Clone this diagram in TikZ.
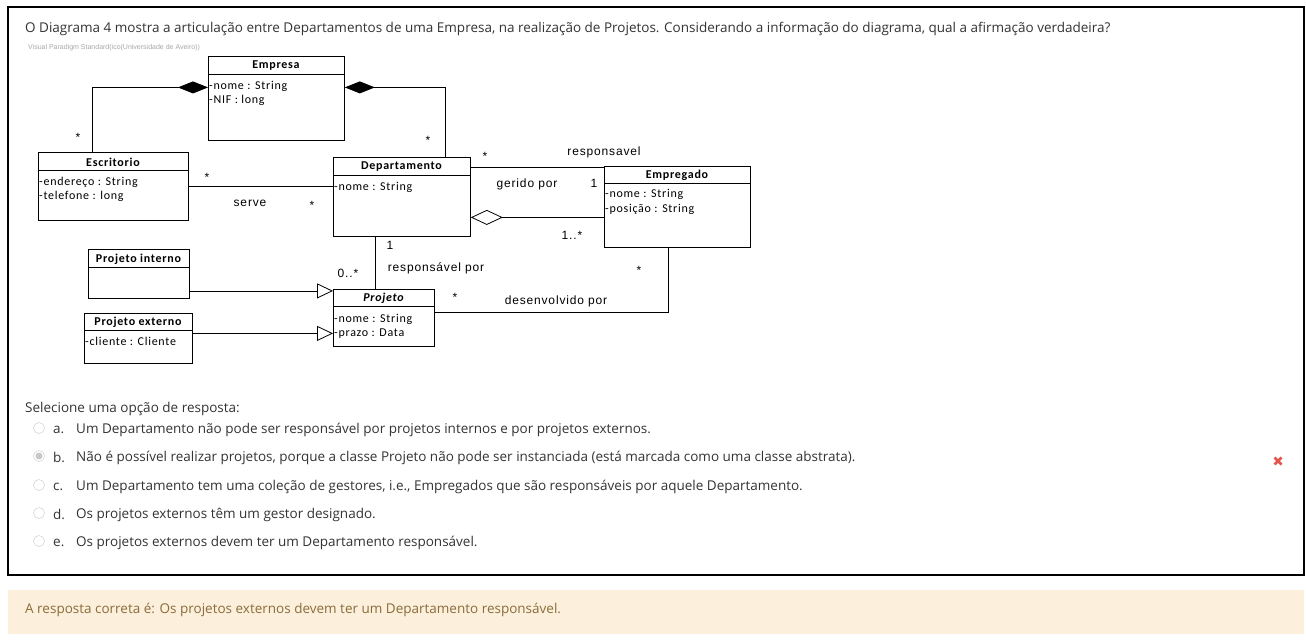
\documentclass[tikz,border=0pt]{standalone}
\usepackage{fontspec}
\setmainfont{Open Sans}
\newfontfamily\clsfont[LetterSpace=6]{Carlito}
\newfontfamily\lblfont[LetterSpace=7]{Liberation Sans}
\newfontfamily\tinyfont{Liberation Sans}
\usetikzlibrary{arrows.meta,calc,positioning}
\definecolor{pagetext}{HTML}{333333}
\definecolor{answerbg}{HTML}{FCEFDC}
\definecolor{answertext}{HTML}{8A6D3B}
\definecolor{wrongred}{HTML}{E5534B}
\definecolor{radiogray}{HTML}{C8C8C8}
\tikzset{
  cls/.style={draw, anchor=north west, line width=0.8pt, inner sep=0pt},
  clstitle/.style={font=\clsfont\bfseries\fontsize{12}{14}\selectfont, inner sep=0pt},
  attr/.style={font=\clsfont\fontsize{12}{14}\selectfont, anchor=base west, inner sep=0pt},
  lbl/.style={font=\lblfont\fontsize{12}{14}\selectfont, inner sep=0pt},
  assoc/.style={line width=0.8pt},
  comp/.style={line width=0.8pt, {Diamond[length=30pt,width=12pt]}-},
  aggr/.style={line width=0.8pt, {Diamond[open,length=32pt,width=15pt]}-},
  gen/.style={line width=0.8pt, -{Triangle[open,length=16pt,width=15pt]}},
  pagetxt/.style={font=\fontsize{13.5}{16}\selectfont, text=pagetext, anchor=west, inner sep=0pt},
  radio/.style={circle, draw=radiogray, fill=white, minimum size=11pt, inner sep=0pt},
}
\begin{document}
\begin{tikzpicture}[x=1pt,y=-1pt]
\useasboundingbox (0,0) rectangle (1306,641);
\draw[line width=1.2pt] (8,7) rectangle (1304,575);
\node[pagetxt] (pergunta) at (25,28.5) {O Diagrama 4 mostra a articulação entre Departamentos de uma Empresa, na realização de Projetos. Considerando a informação do diagrama, qual a afirmação verdadeira?};
\node[anchor=west, inner sep=0pt, font=\tinyfont\fontsize{7}{8}\selectfont, text=gray!70] (vp) at (28,48) {Visual Paradigm Standard(ico(Universidade de Aveiro))};
% classes
\node[cls, minimum width=136, minimum height=84] (empresa) at (208,56) {};
\node[clstitle] (empresaT) at (276,66) {Empresa};
\draw (208,74) -- (344,74);
\node[attr] (empresaA1) at (209,89) {-nome : String};
\node[attr] (empresaA2) at (209,103) {-NIF : long};
\node[cls, minimum width=150, minimum height=68] (escritorio) at (38,152) {};
\node[clstitle] (escritorioT) at (113,162) {Escritorio};
\draw (38,170) -- (188,170);
\node[attr] (escritorioA1) at (39,185) {-endereço : String};
\node[attr] (escritorioA2) at (39,199) {-telefone : long};
\node[cls, minimum width=137, minimum height=79] (depto) at (333,157) {};
\node[clstitle] (deptoT) at (401.5,167) {Departamento};
\draw (333,175) -- (470,175);
\node[attr] (deptoA1) at (334,190) {-nome : String};
\node[cls, minimum width=146, minimum height=81] (empregado) at (604,166) {};
\node[clstitle] (empregadoT) at (677,175) {Empregado};
\draw (604,183) -- (750,183);
\node[attr] (empregadoA1) at (605,197) {-nome : String};
\node[attr] (empregadoA2) at (605,212) {-posição : String};
\node[cls, minimum width=101, minimum height=49] (pInterno) at (88,249) {};
\node[clstitle] (pInternoT) at (138.5,259) {Projeto interno};
\draw (88,267) -- (189,267);
\node[cls, minimum width=108, minimum height=50] (pExterno) at (84,313) {};
\node[clstitle] (pExternoT) at (138,322) {Projeto externo};
\draw (84,330) -- (192,330);
\node[attr] (pExternoA1) at (85,345) {-cliente : Cliente};
\node[cls, minimum width=101, minimum height=57] (projeto) at (333,289) {};
\node[clstitle, font=\clsfont\bfseries\itshape\fontsize{12}{14}\selectfont] (projetoT) at (383.5,298) {Projeto};
\draw (333,306) -- (434,306);
\node[attr] (projetoA1) at (334,322) {-nome : String};
\node[attr] (projetoA2) at (334,336) {-prazo : Data};
% connectors
\draw[comp] ([yshift=11pt]empresa.west) -| ([xshift=-21pt]escritorio.north);
\draw[comp] ([yshift=11pt]empresa.east) -| ([xshift=43.5pt]depto.north);
\draw[assoc] (escritorio.east) -- (escritorio.east -| depto.west);
\draw[assoc] ([yshift=29.5pt]depto.east) -- ([yshift=29.5pt]depto.east -| empregado.west);
\draw[aggr] ([yshift=-20.5pt]depto.east) -- ([yshift=-20.5pt]depto.east -| empregado.west);
\draw[assoc] ([xshift=-26.5pt]depto.south) -- ([xshift=-26.5pt]depto.south |- projeto.north);
\draw[assoc] ([xshift=-9pt]empregado.south) |- ([yshift=5.5pt]projeto.east);
\draw[gen] ([yshift=-17pt]pInterno.east) -- ([yshift=-17pt]pInterno.east -| projeto.west);
\draw[gen] ([yshift=5pt]pExterno.east) -- ([yshift=5pt]pExterno.east -| projeto.west);
% labels
\node[lbl] (m1) at (78,137) {*};
\node[lbl] (m2) at (428,140) {*};
\node[lbl] (m3) at (207,177) {*};
\node[lbl] (serve) at (250,203) {serve};
\node[lbl] (m4) at (312,205) {*};
\node[lbl] (m5) at (485,156) {*};
\node[lbl] (resp) at (604,152) {responsavel};
\node[lbl] (gerido) at (527,184) {gerido por};
\node[lbl] (m6) at (594,183) {1};
\node[lbl] (m7) at (572,235) {1..*};
\node[lbl] (m8) at (390,245) {1};
\node[lbl] (m9) at (348,273) {0..*};
\node[lbl] (respPor) at (436,268) {responsável por};
\node[lbl] (m10) at (639,270) {*};
\node[lbl] (m11) at (455,297) {*};
\node[lbl] (desenv) at (556,301) {desenvolvido por};
% options
\node[pagetxt] (selecione) at (25,408.5) {Selecione uma opção de resposta:};
\foreach \y/\l/\t [count=\i] in {428/a./Um Departamento não pode ser responsável por projetos internos e por projetos externos.,
  456/b./{Não é possível realizar projetos, porque a classe Projeto não pode ser instanciada (está marcada como uma classe abstrata).},
  485/c./{Um Departamento tem uma coleção de gestores, i.e., Empregados que são responsáveis por aquele Departamento.},
  513/d./Os projetos externos têm um gestor designado.,
  541/e./Os projetos externos devem ter um Departamento responsável.}{
  \node[radio] (r\i) at (39,\y) {};
  \node[pagetxt] (l\i) at (53,\y+1.5) {\l};
  \node[pagetxt] (o\i) at (76,\y+1.5) {\t};
}
\fill[radiogray] (r2) circle (3.5pt);
\draw[wrongred, line width=2.6pt] (1274.5,457.5) -- (1281.5,464.5) (1274.5,464.5) -- (1281.5,457.5);
% answer
\fill[answerbg] (8,590) rectangle (1304,634);
\node[pagetxt, text=answertext] (resposta) at (25,609.5) {A resposta correta é: Os projetos externos devem ter um Departamento responsável.};
\end{tikzpicture}
\end{document}
